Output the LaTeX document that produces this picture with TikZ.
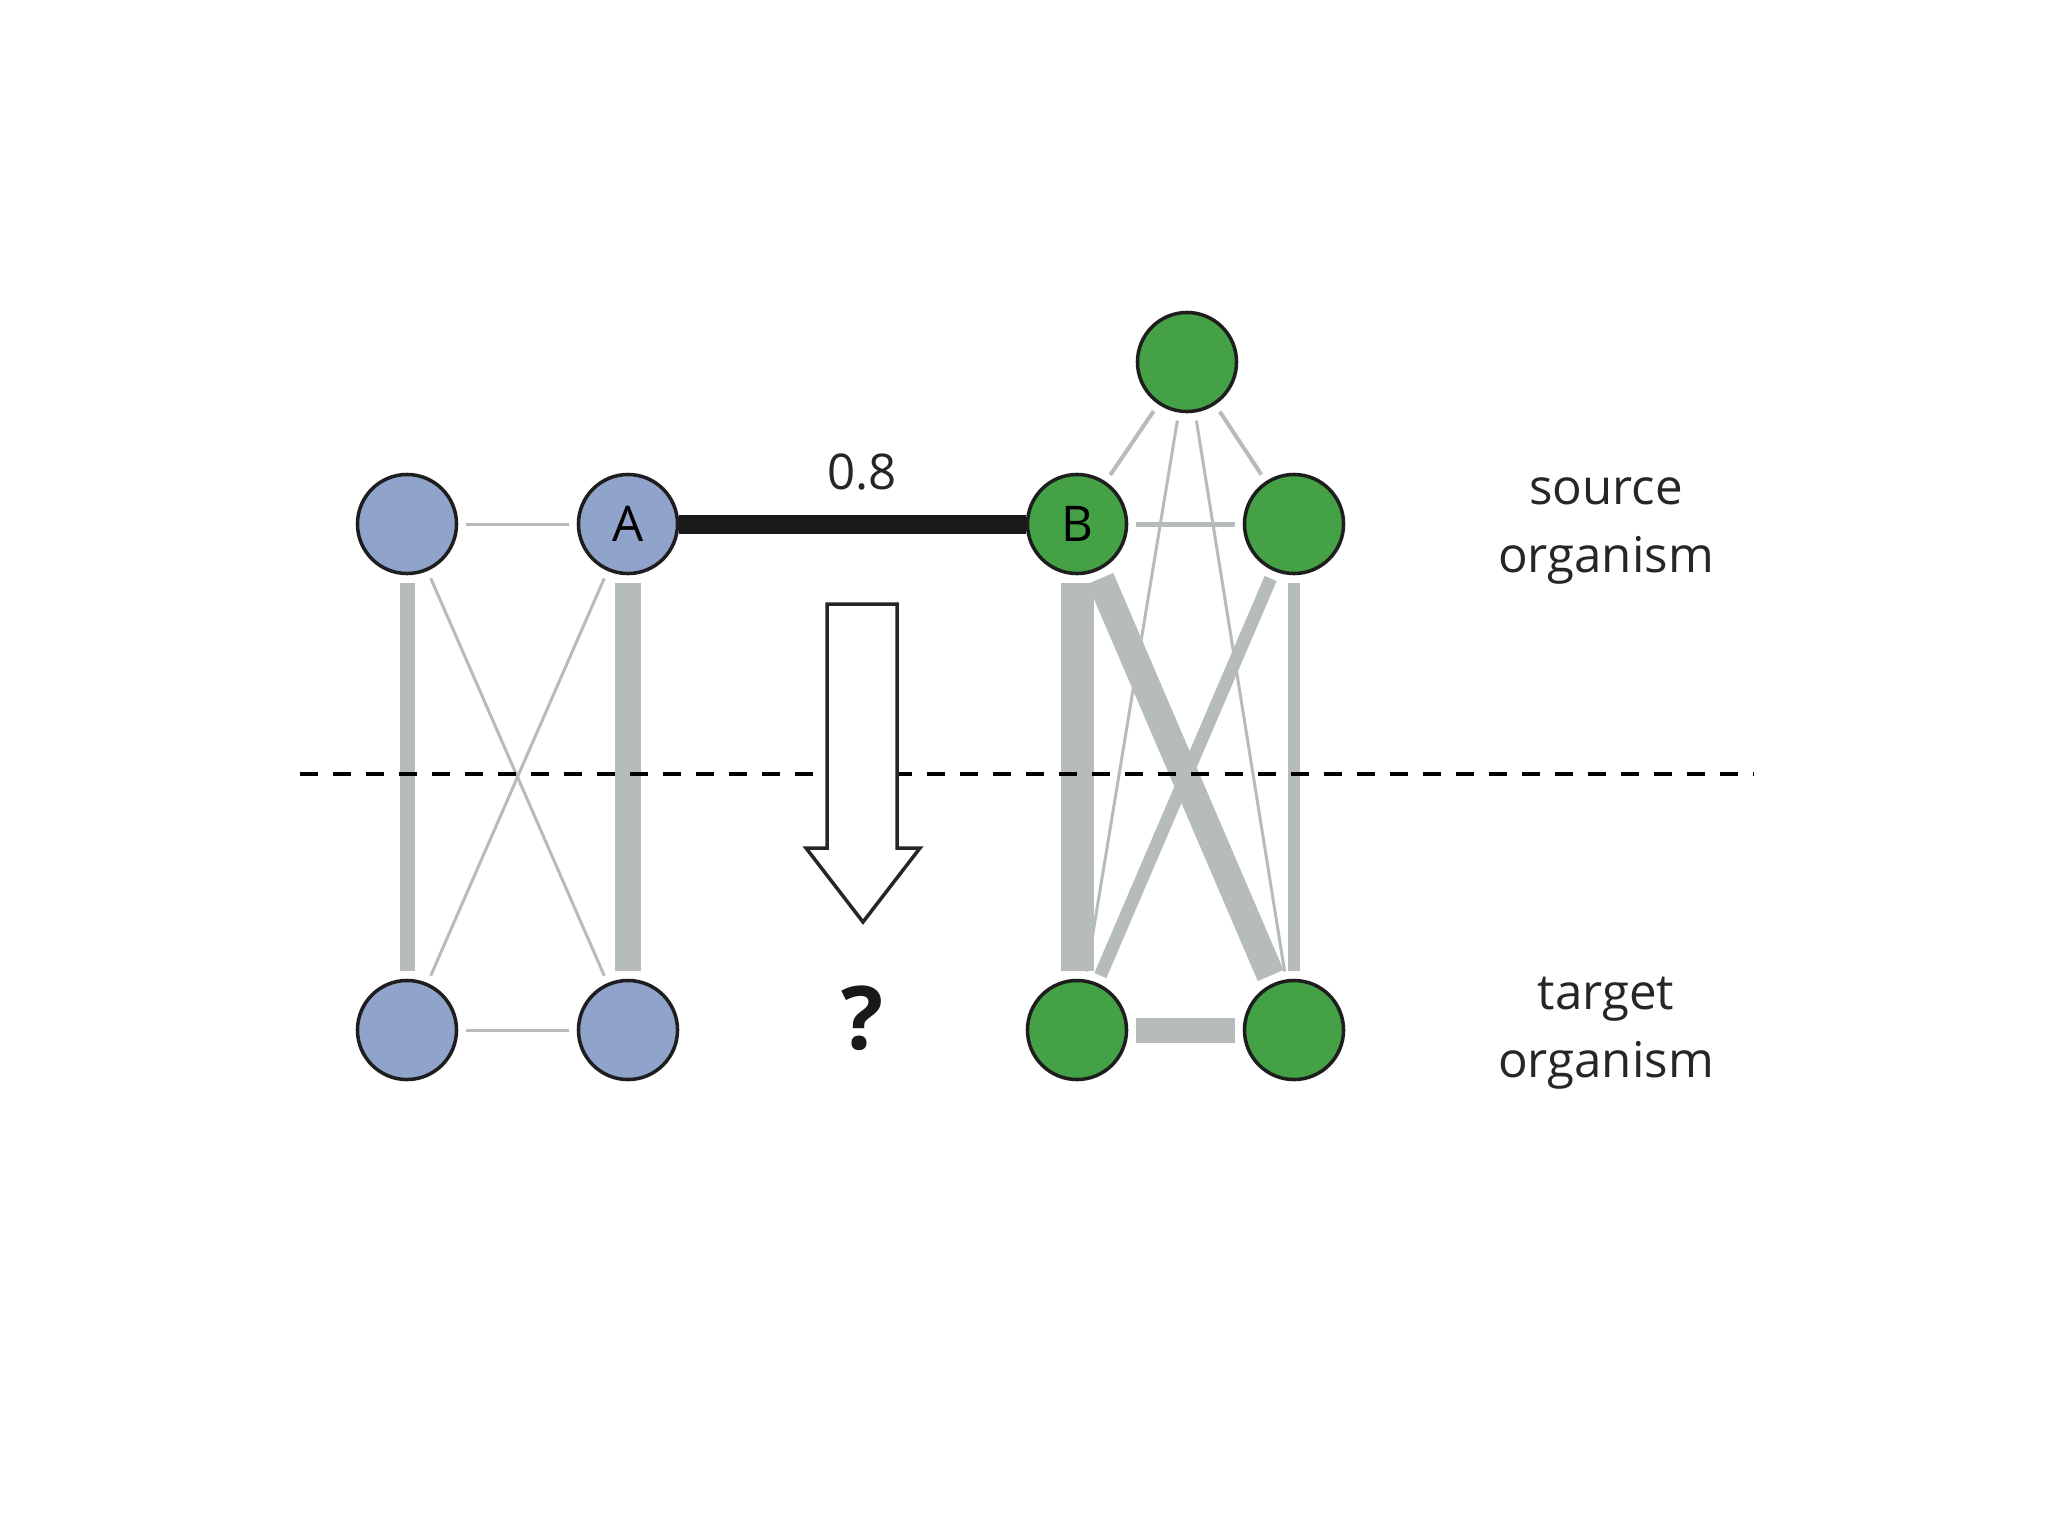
\documentclass[tikz,border=0pt]{standalone}
\usepackage{fontspec}
\setmainfont{Open Sans}
\definecolor{bluefill}{RGB}{143,163,203}
\definecolor{greenfill}{RGB}{69,161,70}
\definecolor{edgegray}{RGB}{182,187,187}
\definecolor{outline}{RGB}{30,30,30}
\tikzset{
  bnode/.style={circle, draw=outline, line width=1pt, fill=bluefill, minimum size=0.99cm, inner sep=0pt, font=\fontsize{14}{16}\selectfont},
  gnode/.style={circle, draw=outline, line width=1pt, fill=greenfill, minimum size=0.99cm, inner sep=0pt, font=\fontsize{14}{16}\selectfont},
  edge/.style={draw=edgegray, line width=#1, shorten <=0.08cm, shorten >=0.08cm},
  lbl/.style={align=center, font=\fontsize{14}{19.3}\selectfont, text=black!85}
}
\begin{document}
\begin{tikzpicture}[x=0.01cm, y=-0.01cm]
\useasboundingbox[fill=white] (0,0) rectangle (2048,1536);
% nodes
\node[bnode] (b1) at (407,524) {};
\node[bnode] (bA) at (628,524) {A};
\node[bnode] (b3) at (407,1030) {};
\node[bnode] (b4) at (628,1030) {};
\node[gnode] (gt) at (1187,362) {};
\node[gnode] (gB) at (1077,524) {B};
\node[gnode] (gR) at (1294,524) {};
\node[gnode] (gBL) at (1077,1030) {};
\node[gnode] (gBR) at (1294,1030) {};
% blue edges
\draw[edge=0.03cm] (b1) -- (bA);
\draw[edge=0.15cm] (b1) -- (b3);
\draw[edge=0.26cm] (bA) -- (b4);
\draw[edge=0.03cm] (b1) -- (b4);
\draw[edge=0.03cm] (bA) -- (b3);
\draw[edge=0.03cm] (b3) -- (b4);
% green edges
\draw[edge=0.04cm] (gt) -- (gB);
\draw[edge=0.04cm] (gt) -- (gR);
\draw[edge=0.03cm] (gt) -- (gBL);
\draw[edge=0.03cm] (gt) -- (gBR);
\draw[edge=0.05cm] (gB) -- (gR);
\draw[edge=0.33cm] (gB) -- (gBL);
\draw[edge=0.28cm] (gB) -- (gBR);
\draw[edge=0.13cm] (gR) -- (gBL);
\draw[edge=0.12cm] (gR) -- (gBR);
\draw[edge=0.25cm] (gBL) -- (gBR);
% black link
\draw[line width=0.19cm, draw=black!90] (bA) -- (gB);
\node[font=\fontsize{14}{16}\selectfont, text=black!85] (w) at (862,472) {0.8};
% dashed separator
\coordinate (dl) at (300,774);
\coordinate (dr) at (1753,774);
\draw[line width=0.04cm, dash pattern=on 0.18cm off 0.15cm] (dl) -- (dr);
% big arrow
\draw[line width=0.035cm, fill=white, draw=black!85, line join=miter]
  (827,604) -- (897,604) -- (897,848) -- (920,848) -- (863,922) -- (806,848) -- (827,848) -- cycle;
\node[font=\bfseries\fontsize{25}{28}\selectfont, text=black!90] (q) at (862,1018) {?};
% labels
\node[lbl] (src) at (1606,531) {source\\organism};
\node[lbl] (tgt) at (1606,1033) {target\\organism};
\end{tikzpicture}
\end{document}
